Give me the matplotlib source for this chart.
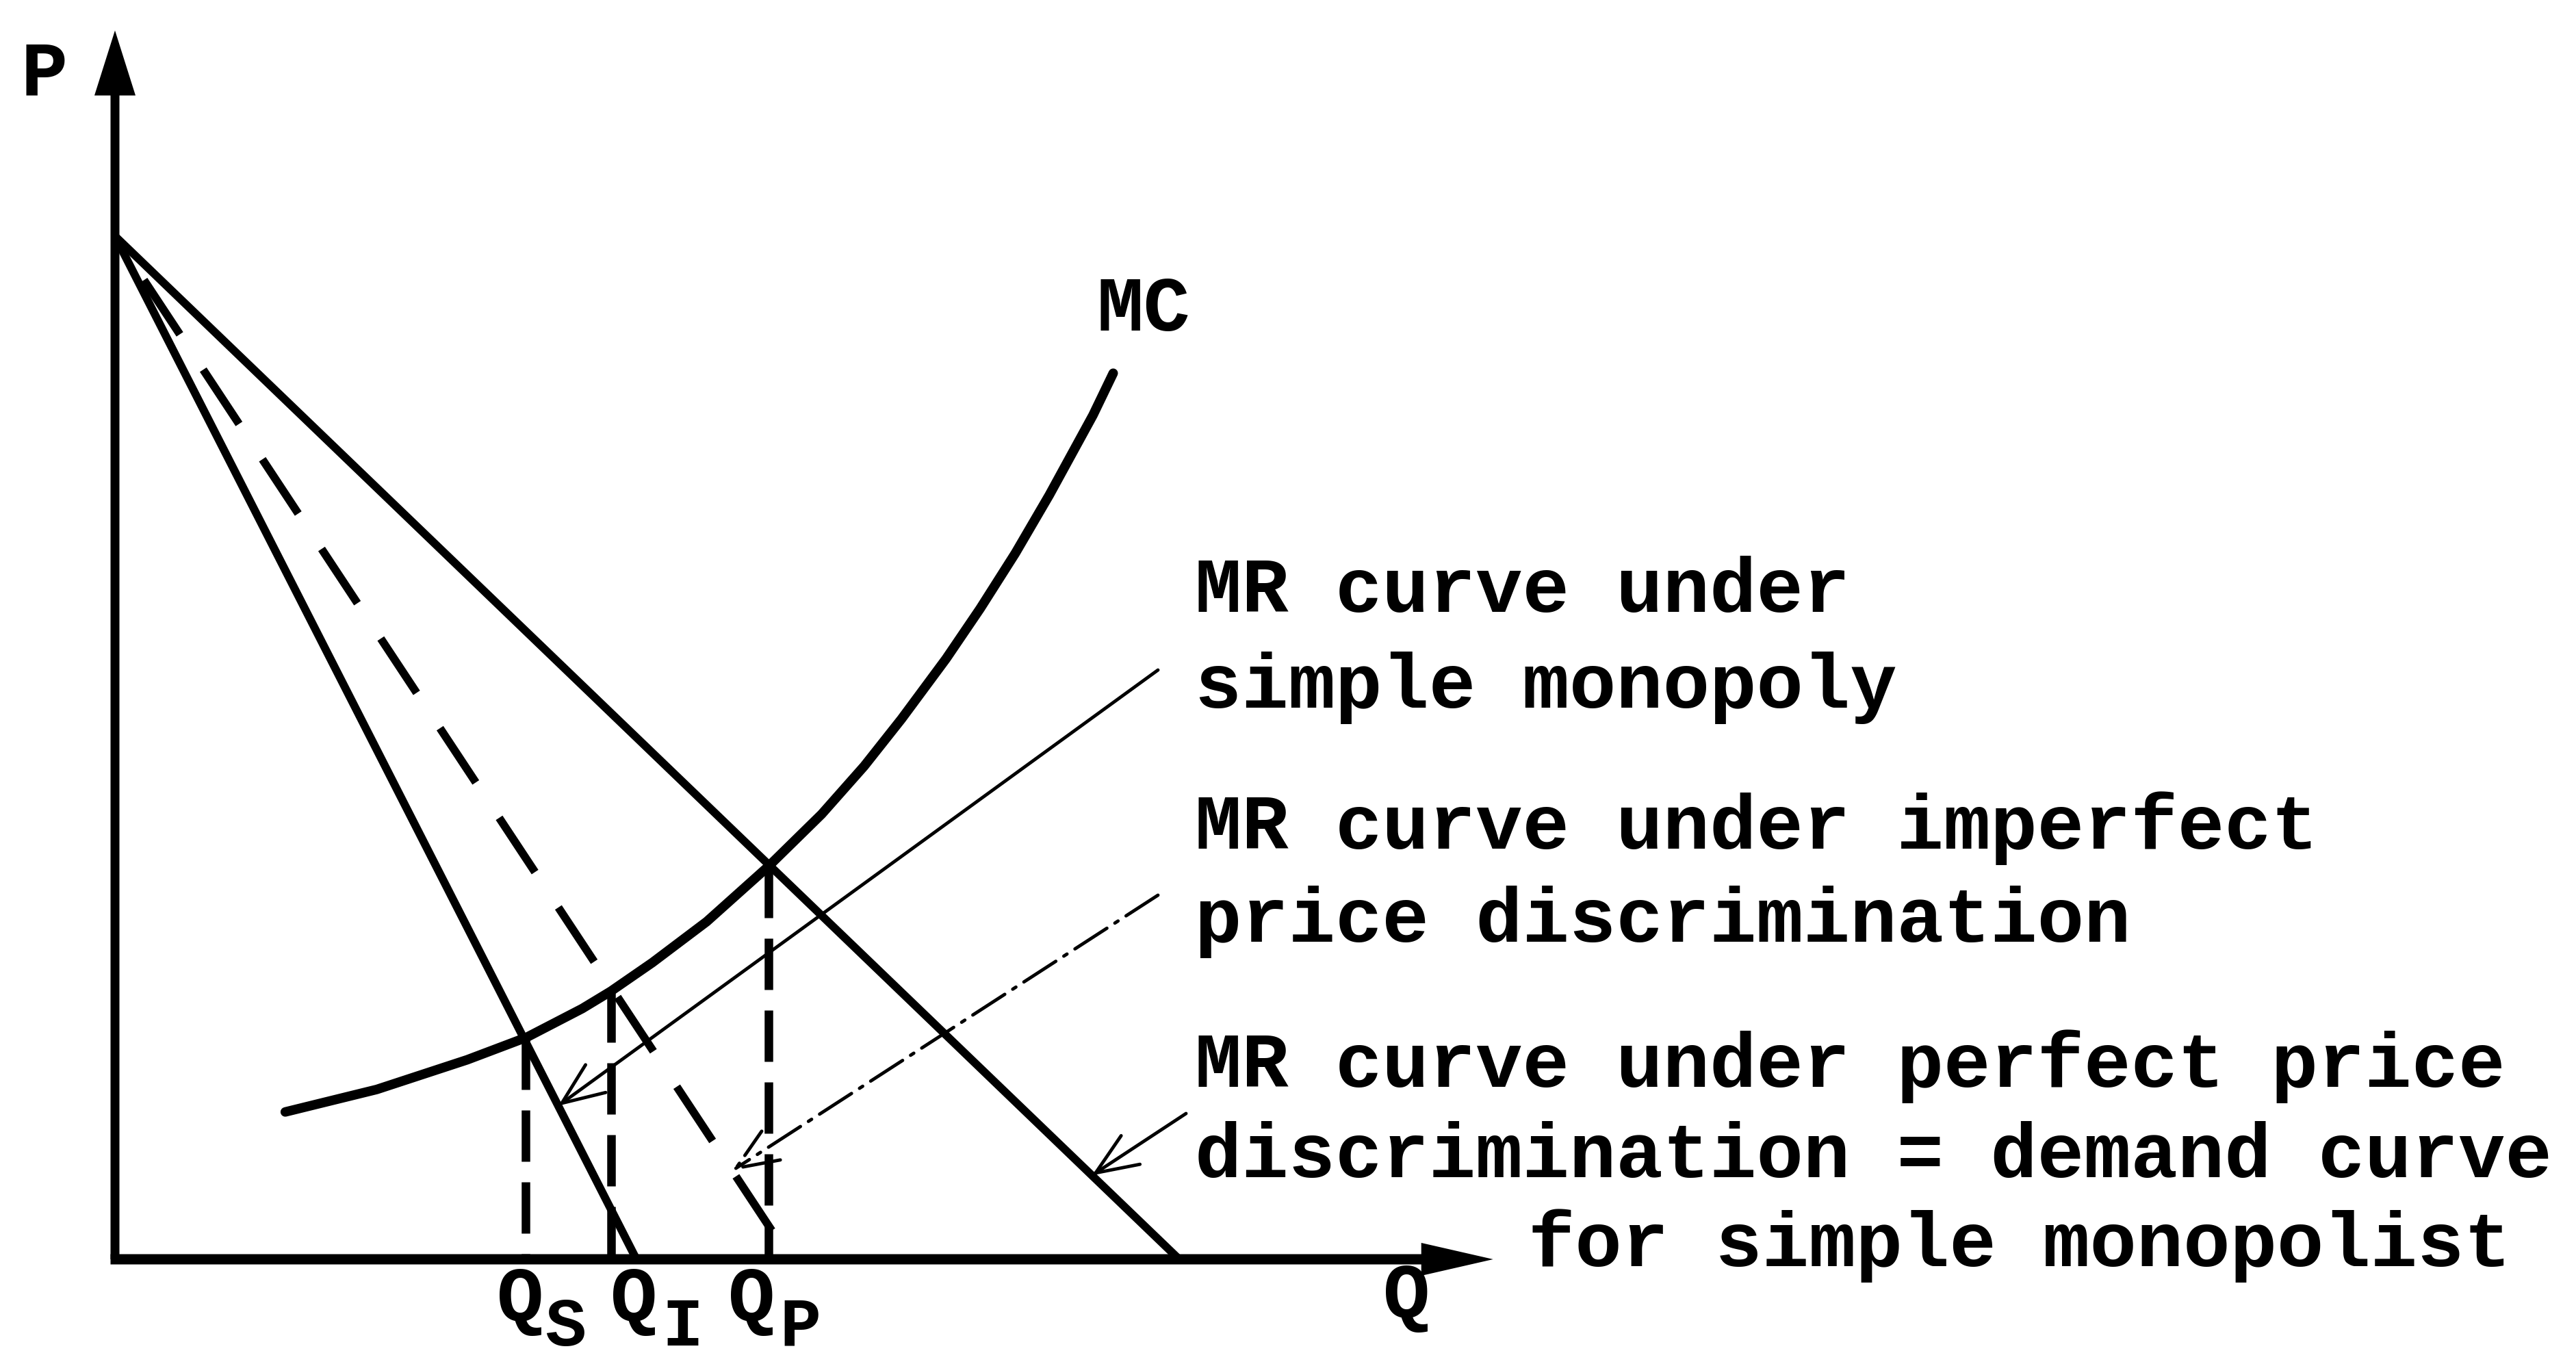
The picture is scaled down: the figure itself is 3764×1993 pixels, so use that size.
import matplotlib
matplotlib.use("Agg")
import matplotlib.pyplot as plt

plt.rcParams['lines.scale_dashes'] = False
plt.rcParams['font.family'] = ['Liberation Mono', 'DejaVu Sans Mono']

# ---- data (economic units) ----
demand_q = [0.0, 10.0]
demand_p = [10.0, 0.0]
mr_simple_q = [0.0, 4.9]
mr_simple_p = [10.0, 0.0]
mr_imperfect_q = [0.0, 6.35]
mr_imperfect_p = [10.0, 0.0]
mc_q = [1.60, 2.46, 3.31, 3.87, 4.39, 4.66, 5.05, 5.56, 6.14, 6.64,
        7.04, 7.39, 7.81, 8.13, 8.46, 8.78, 9.19, 9.38]
mc_p = [1.44, 1.66, 1.95, 2.17, 2.45, 2.62, 2.90, 3.30, 3.84, 4.35,
        4.82, 5.28, 5.87, 6.36, 6.90, 7.47, 8.25, 8.66]
eq_q = [3.86, 4.66, 6.14]          # Q_S, Q_I, Q_P
eq_p = [2.16, 2.62, 3.84]          # where MC meets each MR curve
eq_sub = ['S', 'I', 'P']
axis_q_max = 12.95
axis_p_max = 12.01

texts_right = [
    "MR curve under", "simple monopoly",
    "MR curve under imperfect", "price discrimination",
    "MR curve under perfect price", "discrimination = demand curve",
    "for simple monopolist",
]

# ---- figure / coordinate frame ----
W, H, DPI = 3764, 1993, 100
X0, Y0, SX, SY = 168, 1840, 155.5, 149.5


def d(px, py):
    return ((px - X0) / SX, (Y0 - py) / SY)


fig = plt.figure(figsize=(W / DPI, H / DPI), dpi=DPI)
ax = fig.add_axes([0, 0, 1, 1])
ax.set_xlim(d(0, 0)[0], d(W, 0)[0])
ax.set_ylim(d(0, H)[1], d(0, 0)[1])
ax.axis('off')

FS = 82
FW = 'bold'

# axes with arrow heads (sizes given in pixels, converted to data units)
yw = 13 / SX
ax.arrow(0, 0, 0, axis_p_max, width=yw, head_width=60 / SX,
         head_length=95 / SY, length_includes_head=True, color='black',
         lw=0)
xw = 15 / SY
ax.arrow(-yw / 2, 0, axis_q_max + yw / 2, 0, width=xw, head_width=48 / SY,
         head_length=105 / SX, length_includes_head=True, color='black',
         lw=0)

# curves
ax.plot(demand_q, demand_p, color='black', lw=8.5, solid_capstyle='round')
ax.plot(mr_simple_q, mr_simple_p, color='black', lw=8.5, solid_capstyle='round')
ax.plot(mr_imperfect_q, mr_imperfect_p, color='black', lw=8.5,
        linestyle=(57.6, (68.4, 44.6)))
ax.plot(mc_q, mc_p, color='black', lw=10, solid_capstyle='round',
        solid_joinstyle='round')

# vertical dashed drop lines
for q, p in zip(eq_q, eq_p):
    ax.plot([q, q], [p, 0], color='black', lw=9, linestyle=(0, (54, 21.6)))

# labels
ax.text(*d(65, 138), 'P', fontsize=FS, fontweight=FW, ha='center', va='baseline')
ax.text(*d(1602, 483), 'MC', fontsize=FS, fontweight=FW, ha='left', va='baseline')
ax.text(*d(2055, 1925), 'Q', fontsize=FS, fontweight=FW, ha='center', va='baseline')
q_off = [-8, 34, -25]       # pixel offsets of the "Q" glyph from its drop line
s_off = [58, 105, 47]       # pixel offsets of the subscript
for q, s, qo, so in zip(eq_q, eq_sub, q_off, s_off):
    qx = X0 + q * SX
    ax.text(*d(qx + qo, 1930), 'Q', fontsize=FS, fontweight=FW, ha='center',
            va='baseline')
    ax.text(*d(qx + so, 1966), s, fontsize=72, fontweight=FW, ha='center',
            va='baseline')

baselines = [894, 1034, 1240, 1376, 1588, 1720, 1850]
xs = [1746, 1746, 1746, 1746, 1746, 1746, 2233]
for t, x, y in zip(texts_right, xs, baselines):
    ax.text(*d(x, y), t, fontsize=FS, fontweight=FW, ha='left', va='baseline')

# pointer arrows from the descriptions to the curves
p1_tip = (4.9 * (1 - 0.15), 1.5)
p2_tip = (5.80, 10 * (1 - 5.80 / 6.35))
p3_tip = (9.18, 10 - 9.18)
starts = [d(1692, 979), d(1692, 1308), d(1733, 1627)]
styles = ['-', (0, (40, 10, 4, 10)), '-']
for st, tip, ls in zip(starts, [p1_tip, p2_tip, p3_tip], styles):
    ax.annotate('', xy=tip, xytext=st,
                arrowprops=dict(arrowstyle='->,head_length=1.1,head_width=0.45',
                                lw=3.5, color='black', mutation_scale=40,
                                linestyle=ls, shrinkA=0, shrinkB=0))

fig.savefig('out.png', dpi=DPI, facecolor='white')
